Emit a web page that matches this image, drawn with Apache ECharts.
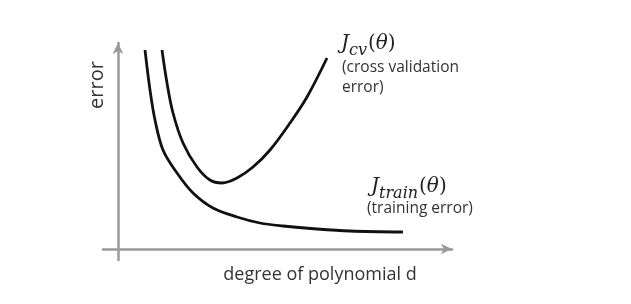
<!DOCTYPE html>
<html>
<head>
<meta charset="utf-8">
<script src="https://cdn.jsdelivr.net/npm/echarts@6/dist/echarts.min.js"></script>
<style>html,body{margin:0;padding:0;background:#fff;}#c{width:631px;height:304px;}</style>
</head>
<body>
<div id="c"></div>
<script>
// Data (arbitrary units)
const trainX = [2.7, 3.2, 3.7, 4.5, 5.9, 7.5, 9.5, 11.9, 14.2, 16.5, 19.9, 23.2, 28.5];
const trainY = [19.9, 15.9, 12.9, 9.9, 7.6, 5.6, 4.1, 3.2, 2.6, 2.3, 2.0, 1.8, 1.7];
const cvX = [4.4, 4.9, 5.5, 6.5, 7.9, 9.2, 10.4, 11.9, 13.5, 15.2, 17.2, 18.9, 20.9];
const cvY = [19.9, 16.6, 13.6, 10.6, 8.2, 6.9, 6.6, 7.1, 8.2, 9.9, 12.6, 15.2, 19.1];
const xLabel = 'degree of polynomial d';
const yLabel = 'error';
const cvNote = ['(cross validation', 'error)'];
const trainNote = '(training error)';

const chart = echarts.init(document.getElementById('c'), null, {renderer: 'canvas'});
const pair = (xs, ys) => xs.map((x, i) => [x, ys[i]]);
const axisCol = '#9a9a9a';
const noteFont = '"Open Sans", sans-serif';
const mathRich = {
  J: {font: 'italic 20px "DejaVu Serif", serif', fill: '#222', verticalAlign: 'bottom', padding: [0, 0, 5, 0]},
  s: {font: 'italic 16px "DejaVu Serif", serif', fill: '#222', verticalAlign: 'bottom', padding: [0, 1, 0, 0]},
  p: {font: '20px "DejaVu Serif", serif', fill: '#222', verticalAlign: 'bottom', padding: [0, 0, 5, 0]},
  t: {font: 'italic 20px "DejaVu Serif", serif', fill: '#222', verticalAlign: 'bottom', padding: [0, 0, 5, 0]}
};
chart.setOption({
  animation: false,
  backgroundColor: '#fff',
  grid: {left: 103, right: 179, top: 43, bottom: 44},
  xAxis: {
    type: 'value', min: -1.5, max: 33.4,
    axisLine: {onZero: true, symbol: ['none', 'arrow'], symbolSize: [8, 11], lineStyle: {color: axisCol, width: 2.5}},
    axisTick: {show: false}, axisLabel: {show: false}, splitLine: {show: false}
  },
  yAxis: {
    type: 'value', min: -1.1, max: 20.6,
    axisLine: {show: true, onZero: true, symbol: ['none', 'arrow'], symbolSize: [8, 11], lineStyle: {color: axisCol, width: 2.5}},
    axisTick: {show: false}, axisLabel: {show: false}, splitLine: {show: false}
  },
  series: [
    {type: 'line', data: pair(trainX, trainY), smooth: 0.35, showSymbol: false,
     lineStyle: {color: '#111', width: 2.8}},
    {type: 'line', data: pair(cvX, cvY), smooth: 0.35, showSymbol: false,
     lineStyle: {color: '#111', width: 2.8}}
  ],
  graphic: [
    {type: 'text', x: 97, y: 85, rotation: Math.PI / 2,
     style: {text: yLabel, font: '20px ' + noteFont, fill: '#333', align: 'center', verticalAlign: 'middle'}},
    {type: 'text', x: 320, y: 275,
     style: {text: xLabel, font: '18px ' + noteFont, fill: '#333', align: 'center', verticalAlign: 'middle'}},
    {type: 'text', x: 341, y: 59,
     style: {rich: mathRich, text: '{J|J}{s|cv}{p|(}{t|θ}{p|)}', verticalAlign: 'bottom'}},
    {type: 'text', x: 342, y: 58,
     style: {text: cvNote.join('\n'), font: '15.5px ' + noteFont, lineHeight: 20, fill: '#333', verticalAlign: 'top'}},
    {type: 'text', x: 371, y: 202,
     style: {rich: mathRich, text: '{J|J}{s|train}{p|(}{t|θ}{p|)}', verticalAlign: 'bottom'}},
    {type: 'text', x: 367, y: 209,
     style: {text: trainNote, font: '15.5px ' + noteFont, fill: '#333', verticalAlign: 'middle'}}
  ]
});
</script>
</body>
</html>
